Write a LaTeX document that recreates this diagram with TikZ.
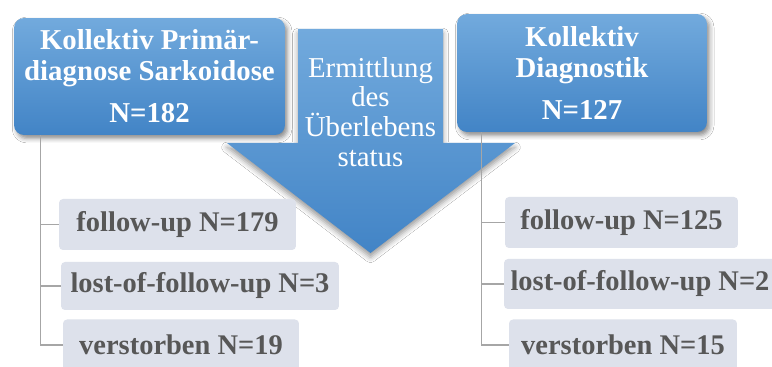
\documentclass[tikz,border=0pt]{standalone}
\usepackage{fontspec}
\setmainfont{Liberation Serif}
\usetikzlibrary{shadows.blur}
\definecolor{boxtop}{HTML}{72AADD}
\definecolor{boxbot}{HTML}{4284C6}
\definecolor{subfill}{HTML}{DDE1EB}
\definecolor{subtext}{HTML}{575757}
\definecolor{treegray}{HTML}{A6A6A6}

\begin{document}
\begin{tikzpicture}[x=0.02cm,y=-0.02cm,
      headbox/.style={rounded corners=0.2cm,top color=boxtop,bottom color=boxbot,
         text=white,align=center,inner sep=0pt,
         font=\fontsize{16.4}{17.6}\selectfont\bfseries,
         blur shadow={shadow xshift=1.5pt,shadow yshift=-2pt,shadow blur radius=2.5pt,shadow opacity=45}},
      subbox/.style={rounded corners=0.08cm,fill=subfill,text=subtext,inner sep=0pt,
         minimum height=1.02cm,font=\fontsize{16.2}{18}\selectfont\bfseries},
      treeline/.style={treegray,line width=0.7pt}]
   \clip (0,0) rectangle (772,367);
   \fill[white] (0,0) rectangle (772,367);

   \path[top color=boxtop,bottom color=boxbot,
         blur shadow={shadow xshift=0pt,shadow yshift=-2.5pt,shadow blur radius=3pt,shadow opacity=40}]
      (298,29) -- (443,29) -- (443,143) -- (515,143) -- (370.5,253) -- (227,143) -- (298,143) -- cycle;
   \node[text=white,align=center,font=\fontsize{16.4}{17}\selectfont] (arrowtxt) at (370.5,112)
      {Ermittlung\\des\\Überlebens\\status};

   \node[headbox,minimum width=5.42cm,minimum height=2.34cm] (lbox) at (149.5,76.5)
      {Kollektiv Primär-\\diagnose Sarkoidose\\[6.2pt]N=182};
   \node[headbox,minimum width=5.0cm,minimum height=2.36cm] (rbox) at (582,73)
      {Kollektiv\\Diagnostik\\[6.2pt]N=127};

   \coordinate (ltrunk) at ([xshift=0.54cm]lbox.south west);
   \coordinate (rtrunk) at ([xshift=0.5cm]rbox.south west);

   \node[subbox,minimum width=4.74cm] (lfol) at (177.5,224.5) {follow-up N=179};
   \node[subbox,minimum width=5.56cm,minimum height=0.96cm] (llost) at (200,286) {lost-of-follow-up N=3};
   \node[subbox,minimum width=4.72cm] (ldead) at (181,345) {verstorben N=19};

   \node[subbox,minimum width=4.66cm] (rfol) at (621.5,222.5) {follow-up N=125};
   \node[subbox,minimum width=5.44cm,minimum height=1.0cm] (rlost) at (640,284) {lost-of-follow-up N=2};
   \node[subbox,minimum width=4.56cm] (rdead) at (623,345) {verstorben N=15};

   \draw[treeline] (ltrunk) |- (lfol.west);
   \draw[treeline] (ltrunk) |- (llost.west);
   \draw[treeline] (ltrunk) |- (ldead.west);
   \draw[treeline] (rtrunk) |- (rfol.west);
   \draw[treeline] (rtrunk) |- (rlost.west);
   \draw[treeline] (rtrunk) |- (rdead.west);
\end{tikzpicture}
\end{document}
